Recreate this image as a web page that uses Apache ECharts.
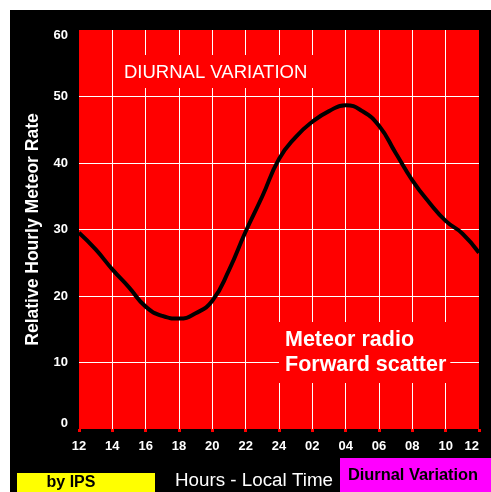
<!DOCTYPE html>
<html>
<head>
<meta charset="utf-8">
<script src="https://cdn.jsdelivr.net/npm/echarts@6/dist/echarts.min.js"></script>
<style>
html,body{margin:0;padding:0;background:#fff;}
#c{width:491px;height:492px;}
</style>
</head>
<body>
<div id="c"></div>
<script>
// hours after local noon (12 = 0)
var hours = [0,1,2,3,4,5,6,7,8,9,10,11,12,13,14,15,16,17,18,19,20,21,22,23,24];
var rates = [29.5,27,24,21.3,18.4,17,16.6,17.4,19.3,23.9,29.7,35,40.6,43.9,46.2,47.8,48.7,47.8,45.6,41.5,37.4,34.1,31.3,29.4,26.5];
var tickLabels = ['12','14','16','18','20','22','24','02','04','06','08','10','12'];
var yTicks = [0,10,20,30,40,50,60];

var font = 'Arial, "Liberation Sans", sans-serif';
var chart = echarts.init(document.getElementById('c'));
chart.setOption({
  backgroundColor: '#ffffff',
  animation: false,
  grid: {left: 79, top: 30, width: 400, height: 399, show: true, backgroundColor: '#ff0000', borderWidth: 0},
  xAxis: {
    type: 'value', min: 0, max: 24, interval: 2,
    axisLine: {show: false},
    axisTick: {show: true, length: 3, lineStyle: {color: '#ff0000', width: 3}},
    axisLabel: {
      color: '#ffffff', fontWeight: 'bold', fontSize: 13, fontFamily: font, margin: 11,
      alignMaxLabel: 'right',
      formatter: function (v) { return tickLabels[Math.round(v / 2)]; }
    },
    splitLine: {show: true, showMinLine: false, showMaxLine: false, lineStyle: {color: '#ffffff', width: 1}}
  },
  yAxis: {
    type: 'value', min: yTicks[0], max: yTicks[yTicks.length - 1], interval: 10,
    name: 'Relative Hourly Meteor Rate', nameLocation: 'middle', nameGap: 37,
    nameTextStyle: {color: '#ffffff', fontWeight: 'bold', fontSize: 17.5, fontFamily: font},
    axisLine: {show: false},
    axisTick: {show: false},
    axisLabel: {color: '#ffffff', fontWeight: 'bold', fontSize: 13, fontFamily: font, margin: 11,
      formatter: function (v) {
        if (v === yTicks[yTicks.length - 1]) return '{top|' + v + '}';
        if (v === yTicks[0]) return '{bot|' + v + '}';
        return '' + v;
      },
      rich: {
        top: {color: '#ffffff', fontWeight: 'bold', fontSize: 13, fontFamily: font, padding: [11, 0, 0, 0]},
        bot: {color: '#ffffff', fontWeight: 'bold', fontSize: 13, fontFamily: font, padding: [0, 0, 11, 0]}
      }
    },
    splitLine: {show: true, showMinLine: false, showMaxLine: false, lineStyle: {color: '#ffffff', width: 1}}
  },
  series: [{
    type: 'line',
    data: hours.map(function (h, i) { return [h, rates[i]]; }),
    smooth: true,
    showSymbol: false,
    lineStyle: {color: '#000000', width: 4},
    z: 3
  }],
  graphic: [
    {type: 'rect', z: -10, silent: true, shape: {x: 10, y: 10, width: 481, height: 482}, style: {fill: '#000000'}},
    {type: 'text', z: 100, left: 118, top: 55, style: {
      text: 'DIURNAL VARIATION', fill: '#ffffff', font: '18.5px ' + font,
      backgroundColor: '#ff0000', padding: [8, 6, 6, 6]}},
    {type: 'text', z: 100, left: 279, top: 322, style: {
      text: 'Meteor radio\nForward scatter', fill: '#ffffff', font: 'bold 21.5px ' + font,
      lineHeight: 25, backgroundColor: '#ff0000', padding: [6, 4, 5, 6]}},
    {type: 'rect', z: 50, shape: {x: 17, y: 473, width: 138, height: 19}, style: {fill: '#ffff00'}},
    {type: 'text', z: 60, x: 71, y: 483, style: {
      text: 'by IPS', fill: '#000000', font: 'bold 16px ' + font, align: 'center', verticalAlign: 'middle'}},
    {type: 'text', z: 60, x: 254, y: 481, style: {
      text: 'Hours - Local Time', fill: '#ffffff', font: '18.8px ' + font, align: 'center', verticalAlign: 'middle'}},
    {type: 'rect', z: 50, shape: {x: 340, y: 458, width: 151, height: 34}, style: {fill: '#ff00ff'}},
    {type: 'text', z: 60, x: 413, y: 475, style: {
      text: 'Diurnal Variation', fill: '#000000', font: 'bold 16.4px ' + font, align: 'center', verticalAlign: 'middle'}}
  ]
});
</script>
</body>
</html>
